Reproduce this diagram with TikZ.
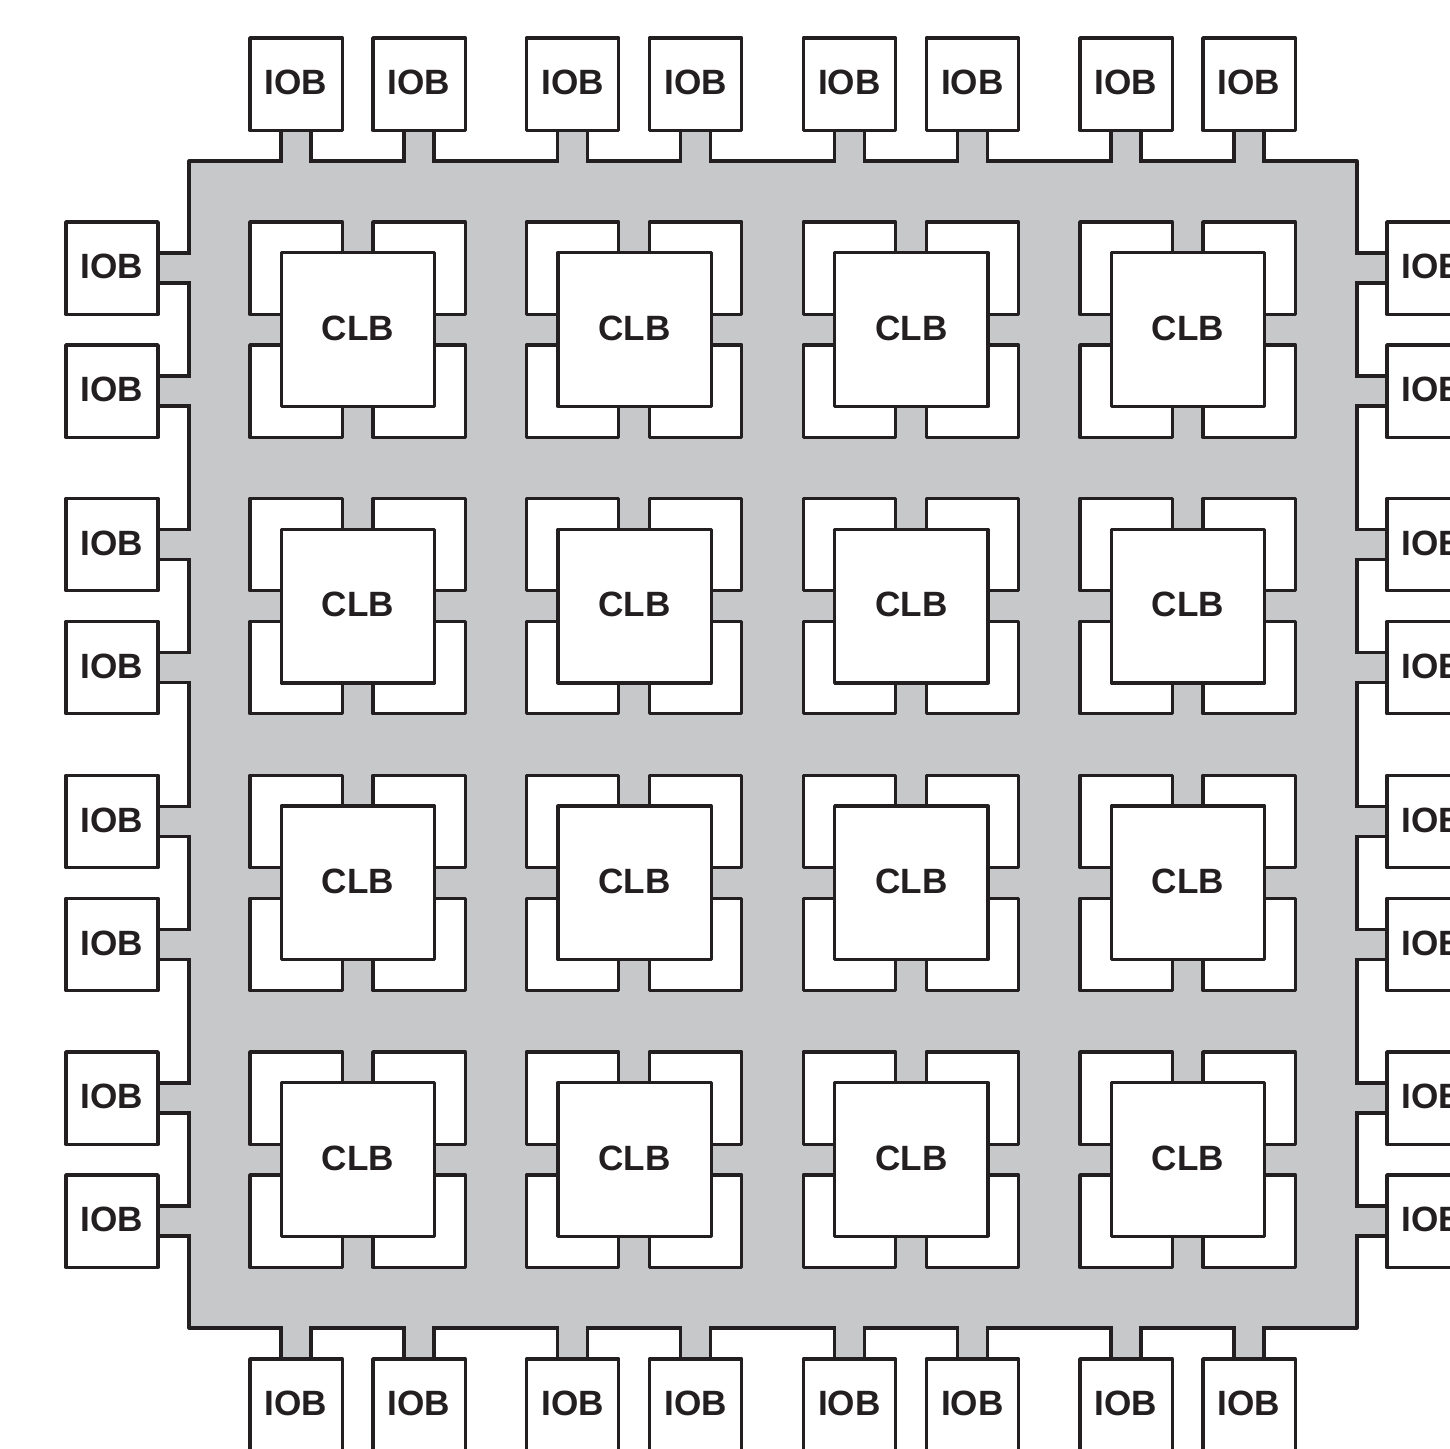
\documentclass[tikz,border=0pt]{standalone}
\usepackage{fontspec}
\setmainfont{Liberation Sans}
\usepackage{tikz}
\usetikzlibrary{calc}

\definecolor{ink}{HTML}{231F20}
\definecolor{coregray}{HTML}{C6C8CA}
\tikzset{
  block/.style={draw=ink, line width=1.87pt, fill=white, inner sep=0pt, line join=round, text=ink, text depth=1.7pt, font=\fontsize{20}{24}\selectfont\bfseries},
  iob/.style={block, minimum width=1.846cm, minimum height=1.846cm},
  sbox/.style={iob},
  clb/.style={block, minimum width=3.07cm, minimum height=3.07cm},
  core/.style={draw=ink, line width=1.87pt, fill=coregray, inner sep=0pt, line join=round, minimum width=23.36cm, minimum height=23.34cm},
  stub/.style={draw=ink, line width=1.87pt, double=coregray, double distance=15.2pt, shorten >=-1.87pt},
}

\begin{document}
\begin{tikzpicture}[x=0.02cm, y=-0.02cm]

\clip[use as bounding box] (0,0) rectangle (1450,1448);

\node[core] (chip) at (773,744.5) {};

\foreach \i in {0,1,2,3} {
  \foreach \k in {0,1} {
    \pgfmathsetmacro{\pos}{296+276.67*\i+123*\k}
    \pgfmathsetmacro{\side}{268+276.67*\i+123*\k}

    \node[iob] (top\i\k) at (\pos,84) {IOB};
    \node[iob] (bot\i\k) at (\pos,1405) {IOB};
    \node[iob] (lft\i\k) at (112,\side) {IOB};
    \node[iob] (rgt\i\k) at (1433,\side) {IOB};

    \draw[stub] (top\i\k.south) -- (top\i\k.south |- chip.north);
    \draw[stub] (bot\i\k.north) -- (bot\i\k.north |- chip.south);
    \draw[stub] (lft\i\k.east) -- (lft\i\k.east -| chip.west);
    \draw[stub] (rgt\i\k.west) -- (rgt\i\k.west -| chip.east);
  }
}

% CLB with its four corner boxes
\foreach \i in {0,1,2,3} {
  \foreach \j in {0,1,2,3} {
    \pgfmathsetmacro{\cx}{358+276.67*\i}
    \pgfmathsetmacro{\cy}{329.5+276.67*\j}

    \node[sbox] (nw\i\j) at (\cx-62,\cy-61.5) {};
    \node[sbox] (ne\i\j) at (\cx+61,\cy-61.5) {};
    \node[sbox] (sw\i\j) at (\cx-62,\cy+61.5) {};
    \node[sbox] (se\i\j) at (\cx+61,\cy+61.5) {};
    \node[clb] (clb\i\j) at (\cx,\cy) {CLB};
  }
}

\end{tikzpicture}
\end{document}
